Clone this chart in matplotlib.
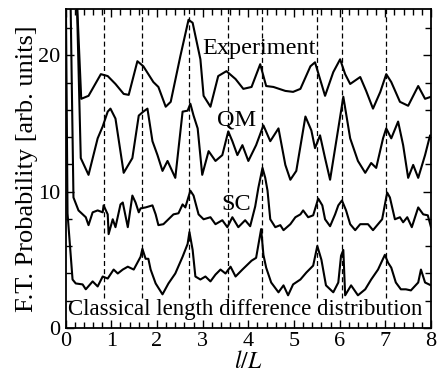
import numpy as np
import matplotlib
matplotlib.use("Agg")
import matplotlib.pyplot as plt
from matplotlib.ticker import MultipleLocator

plt.rcParams['font.family'] = ['Liberation Serif', 'DejaVu Serif']
plt.rcParams['mathtext.fontset'] = 'stix'

# curves (x = l/L, y = F.T. probability)
exp_x = [0.15, 0.22, 0.34, 0.50, 0.77, 0.92, 1.09, 1.27, 1.38, 1.57, 1.70, 1.92, 2.03, 2.19,
         2.30, 2.51, 2.69, 2.78, 2.95, 3.02, 3.17, 3.34, 3.52, 3.72, 3.89, 4.07, 4.26, 4.39,
         4.55, 4.81, 4.98, 5.14, 5.36, 5.46, 5.68, 5.86, 6.01, 6.12, 6.23, 6.45, 6.58, 6.73,
         6.89, 7.02, 7.13, 7.32, 7.50, 7.72, 7.87, 8.00]
exp_y = [40.0, 26.0, 16.81, 17.03, 18.62, 18.48, 17.90, 17.17, 17.10, 19.57, 19.20, 18.04, 17.68, 16.23,
         16.59, 19.93, 22.61, 22.39, 19.71, 17.03, 16.23, 18.48, 18.84, 18.26, 17.54, 17.68, 19.35, 17.75,
         17.68, 17.39, 17.32, 17.54, 19.20, 19.49, 17.03, 18.77, 19.71, 18.62, 17.90, 18.41, 17.39, 16.09,
         17.32, 18.62, 18.04, 16.59, 16.30, 17.75, 16.81, 16.96]

qm_x = [0.20, 0.33, 0.50, 0.70, 0.81, 0.92, 0.98, 1.09, 1.27, 1.46, 1.60, 1.70, 1.79, 1.90, 2.01,
        2.12, 2.23, 2.30, 2.40, 2.56, 2.67, 2.73, 2.80, 2.89, 2.99, 3.13, 3.28, 3.43, 3.56, 3.65,
        3.76, 3.87, 4.00, 4.17, 4.33, 4.48, 4.66, 4.81, 4.92, 5.05, 5.25, 5.38, 5.46, 5.57, 5.68,
        5.79, 5.97, 6.08, 6.23, 6.40, 6.56, 6.69, 6.80, 6.95, 7.02, 7.13, 7.28, 7.39, 7.50, 7.61,
        7.72, 7.87, 7.98, 8.00]
qm_y = [30.0, 12.46, 11.23, 13.91, 14.78, 15.87, 16.09, 15.36, 11.38, 12.46, 15.58, 15.87, 16.09, 13.70, 12.68,
        11.52, 12.25, 11.74, 11.01, 15.87, 15.94, 16.45, 15.58, 14.64, 11.23, 12.97, 12.25, 12.68, 14.42, 13.70,
        12.68, 13.41, 12.25, 13.41, 14.86, 13.70, 14.64, 11.96, 10.87, 11.52, 15.51, 14.49, 13.19, 14.13, 12.46,
        10.87, 14.64, 16.96, 13.91, 12.25, 11.38, 12.10, 11.74, 13.91, 14.64, 13.91, 15.14, 13.41, 11.01, 11.96,
        11.01, 12.68, 14.13, 13.90]

sc_x = [0.08, 0.17, 0.28, 0.44, 0.50, 0.59, 0.70, 0.81, 0.83, 0.92, 0.94, 1.03, 1.09, 1.20, 1.25,
        1.36, 1.46, 1.53, 1.60, 1.64, 1.75, 1.90, 1.97, 2.03, 2.14, 2.25, 2.36, 2.47, 2.56, 2.62,
        2.73, 2.80, 2.91, 3.02, 3.17, 3.28, 3.43, 3.54, 3.65, 3.78, 3.93, 4.04, 4.15, 4.22, 4.31,
        4.37, 4.42, 4.48, 4.59, 4.70, 4.77, 4.92, 5.03, 5.14, 5.20, 5.31, 5.42, 5.53, 5.62, 5.68,
        5.79, 5.90, 5.97, 6.05, 6.14, 6.23, 6.34, 6.45, 6.62, 6.73, 6.84, 6.93, 7.04, 7.10, 7.21,
        7.32, 7.39, 7.48, 7.58, 7.72, 7.83, 7.93, 8.00]
sc_y = [30.0, 9.57, 8.62, 8.12, 7.54, 8.48, 8.62, 8.48, 8.99, 8.33, 6.88, 7.97, 7.39, 9.06, 9.20,
        7.39, 9.71, 9.20, 8.48, 8.77, 8.84, 8.99, 8.33, 7.54, 7.61, 7.97, 8.33, 8.41, 9.06, 8.84,
        10.07, 9.71, 8.33, 7.97, 8.12, 7.61, 7.90, 7.39, 8.12, 7.39, 7.90, 7.46, 8.91, 10.29, 11.74,
        11.01, 10.07, 7.97, 7.39, 7.54, 7.17, 7.61, 8.12, 8.33, 8.62, 8.12, 8.26, 9.49, 8.99, 7.97,
        7.46, 8.33, 8.99, 9.35, 8.62, 7.61, 7.17, 7.61, 7.61, 7.17, 7.61, 7.97, 9.93, 9.57, 7.97,
        8.12, 7.75, 8.12, 7.39, 8.84, 8.33, 8.26, 7.39]

cl_x = [0.00, 0.04, 0.15, 0.22, 0.37, 0.44, 0.59, 0.70, 0.81, 0.92, 1.05, 1.14, 1.25, 1.36, 1.49,
        1.64, 1.68, 1.75, 1.81, 1.86, 1.97, 2.12, 2.25, 2.40, 2.56, 2.67, 2.71, 2.78, 2.84, 2.95,
        3.06, 3.17, 3.28, 3.39, 3.50, 3.61, 3.72, 3.87, 4.07, 4.17, 4.28, 4.33, 4.39, 4.50, 4.66,
        4.77, 4.87, 4.98, 5.14, 5.27, 5.42, 5.51, 5.60, 5.70, 5.86, 5.97, 6.03, 6.08, 6.12, 6.25,
        6.40, 6.56, 6.69, 6.84, 6.99, 7.06, 7.13, 7.23, 7.34, 7.45, 7.56, 7.72, 7.78, 7.87, 8.00]
cl_y = [26.0, 8.40, 3.55, 3.26, 3.19, 2.83, 3.41, 3.04, 3.77, 3.62, 4.28, 3.99, 4.28, 4.49, 4.28,
        5.22, 5.80, 5.07, 5.07, 4.28, 3.26, 2.46, 3.26, 3.99, 5.22, 6.16, 7.03, 5.72, 3.77, 3.55,
        3.77, 3.41, 3.91, 4.28, 3.99, 4.49, 3.77, 4.28, 4.93, 5.14, 7.25, 5.36, 4.42, 3.33, 2.61,
        3.12, 2.39, 3.19, 3.55, 4.06, 4.57, 6.01, 5.00, 3.12, 2.61, 3.33, 5.29, 5.72, 2.39, 3.12,
        2.39, 2.83, 3.55, 4.28, 5.36, 4.78, 4.42, 3.33, 2.83, 2.83, 2.75, 3.33, 4.28, 3.33, 3.12]

orbits = [0.83, 1.68, 2.69, 3.56, 4.30, 5.51, 6.06, 7.01]

fig = plt.figure(figsize=(4.38, 3.76), dpi=100)
ax = fig.add_axes([0.150, 0.128, 0.834, 0.848])

for xs, ys in [(exp_x, exp_y), (qm_x, qm_y), (sc_x, sc_y), (cl_x, cl_y)]:
    ax.plot(xs, ys, color='black', lw=1.5, solid_joinstyle='round')

ax.vlines(orbits, 2.2, 23.4, colors='black', linestyles=(0, (4, 2.5)), lw=0.9)

ax.text(3.0, 20.07, 'Experiment', fontsize=17.5)
ax.text(3.32, 14.86, 'QM', fontsize=17.5)
ax.text(3.41, 8.62, 'SC', fontsize=17.5)
ax.text(0.05, 0.94, 'Classical length difference distribution', fontsize=16.5)

ax.set_xlim(0, 8)
ax.set_ylim(0, 23.4)
ax.xaxis.set_major_locator(MultipleLocator(1))
ax.xaxis.set_minor_locator(MultipleLocator(0.2))
ax.yaxis.set_major_locator(MultipleLocator(10))
ax.yaxis.set_minor_locator(MultipleLocator(2))
ax.tick_params(which='both', direction='in', top=True, right=True, labelsize=16, width=1)
ax.tick_params(which='major', length=6)
ax.tick_params(which='minor', length=4)
ax.tick_params(axis='x', pad=3)
ax.tick_params(axis='y', pad=4)
for s in ax.spines.values():
    s.set_linewidth(1.3)

ax.set_xlabel('$l/L$', fontsize=17, labelpad=0)
ax.set_ylabel('F.T. Probability [arb. units]', fontsize=19, labelpad=0)

fig.savefig('out.png', dpi=100)
